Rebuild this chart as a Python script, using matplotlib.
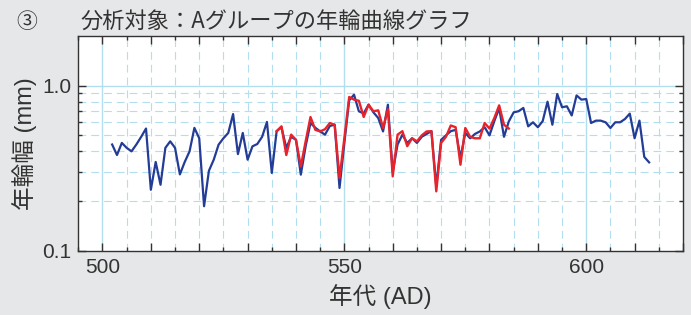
import matplotlib
matplotlib.use('Agg')
import matplotlib.pyplot as plt
from matplotlib.ticker import MultipleLocator, FixedLocator, FuncFormatter, NullFormatter
import numpy as np

# ring width series, one value per year
blue_start = 502
blue_values = [
    0.44, 0.38, 0.45, 0.42, 0.40, 0.44, 0.49, 0.55, 0.234, 0.345,   # 502-511
    0.251, 0.42, 0.46, 0.42, 0.29, 0.345, 0.40, 0.555, 0.48, 0.186,  # 512-521
    0.305, 0.356, 0.439, 0.48, 0.517, 0.673, 0.385, 0.517, 0.356, 0.429,  # 522-531
    0.443, 0.49, 0.603, 0.296, 0.53, 0.56, 0.42, 0.49, 0.47, 0.289,  # 532-541
    0.43, 0.594, 0.556, 0.528, 0.505, 0.57, 0.58, 0.24, 0.45, 0.815,  # 542-551
    0.882, 0.699, 0.68, 0.767, 0.69, 0.637, 0.528, 0.767, 0.30, 0.44,  # 552-561
    0.505, 0.45, 0.48, 0.45, 0.49, 0.51, 0.53, 0.245, 0.47, 0.50,  # 562-571
    0.53, 0.54, 0.365, 0.517, 0.48, 0.51, 0.528, 0.56, 0.50, 0.61,  # 572-581
    0.73, 0.49, 0.608, 0.689, 0.70, 0.733, 0.567, 0.60, 0.56, 0.61,  # 582-591
    0.80, 0.58, 0.89, 0.74, 0.75, 0.66, 0.873, 0.823, 0.83, 0.594,  # 592-601
    0.614, 0.614, 0.60, 0.554, 0.60, 0.60, 0.628, 0.677, 0.48, 0.614,  # 602-611
    0.37, 0.343,  # 612-613
]
red_start = 536
red_values = [
    0.53, 0.567, 0.38, 0.505, 0.47, 0.324, 0.46, 0.646, 0.54, 0.528,  # 536-545
    0.545, 0.594, 0.58, 0.276, 0.48, 0.854, 0.823, 0.81, 0.646, 0.767,  # 546-555
    0.70, 0.709, 0.554, 0.72, 0.282, 0.505, 0.53, 0.43, 0.48, 0.46,  # 556-565
    0.50, 0.528, 0.53, 0.229, 0.45, 0.49, 0.574, 0.56, 0.332, 0.554,  # 566-575
    0.49, 0.48, 0.48, 0.594, 0.55, 0.637, 0.76, 0.58, 0.55,  # 576-584
]
blue_years = np.arange(blue_start, blue_start + len(blue_values))
red_years = np.arange(red_start, red_start + len(red_values))

y_minor = [0.2, 0.3, 0.4, 0.5, 0.6, 0.7, 0.8, 0.9]

jp = ['Liberation Sans', 'Noto Sans CJK JP', 'DejaVu Sans']
plt.rcParams['font.family'] = jp

bg = '#e6e7e8'
grid_c = '#b2def0'
txt = '#333333'

fig = plt.figure(figsize=(6.91, 3.15), dpi=100, facecolor=bg)
ax = fig.add_axes([0.1133, 0.2041, 0.8751, 0.6816])
ax.set_facecolor('white')

ax.set_yscale('log')
ax.set_xlim(495, 620)
ax.set_ylim(0.1, 2.0)

# grid: solid at 50 yr / 1.0, dashed elsewhere
for x in np.arange(500, 620, 5):
    if x % 50 == 0:
        ax.axvline(x, color=grid_c, lw=1.0, zorder=0)
    else:
        ax.axvline(x, color=grid_c, lw=0.8, ls=(0, (7, 4.5)), zorder=0)
for y in y_minor:
    ax.axhline(y, color=grid_c, lw=0.8, ls=(0, (7, 4.5)), zorder=0)
ax.axhline(1.0, color=grid_c, lw=1.0, zorder=0)

ax.plot(blue_years, blue_values, color='#233c96', lw=1.6, zorder=3)
ax.plot(red_years, red_values, color='#e8232b', lw=1.7, zorder=4)

ax.xaxis.set_major_locator(MultipleLocator(10))
ax.xaxis.set_minor_locator(MultipleLocator(5))
ax.xaxis.set_major_formatter(FuncFormatter(lambda v, p: f'{int(v)}' if v % 50 == 0 else ''))
ax.yaxis.set_major_locator(FixedLocator([0.1, 1.0]))
ax.yaxis.set_minor_locator(FixedLocator(y_minor))
ax.yaxis.set_major_formatter(FuncFormatter(lambda v, p: f'{v:.1f}'))
ax.yaxis.set_minor_formatter(NullFormatter())

ax.tick_params(which='both', direction='in', top=True, right=True,
               colors='#333333', labelcolor=txt, labelsize=15, width=1.0)
ax.tick_params(which='major', length=6)
ax.tick_params(which='minor', length=3)
ax.tick_params(axis='x', pad=5)
ax.tick_params(axis='y', pad=5)

for s in ax.spines.values():
    s.set_color('#333333')
    s.set_linewidth(1.0)

ax.set_xlabel('年代 (AD)', fontsize=17, color=txt, labelpad=5)
ax.set_ylabel('年輪幅 (mm)', fontsize=17, color=txt, labelpad=4)

fig.text(0.039, 0.93, '③', fontsize=15, color=txt, va='center', ha='center',
         family=['Noto Sans CJK JP', 'DejaVu Sans'])
fig.text(0.116, 0.93, '分析対象：Aグループの年輪曲線グラフ', fontsize=16, color=txt,
         va='center', ha='left', family=['Noto Sans CJK JP', 'DejaVu Sans'])

fig.savefig('out.png', dpi=100, facecolor=bg)
